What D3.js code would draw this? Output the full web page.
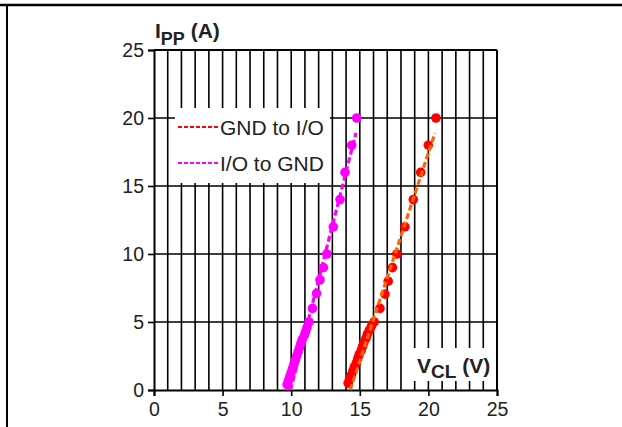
<!DOCTYPE html>
<html>
<head>
<meta charset="utf-8">
<script src="https://cdn.jsdelivr.net/npm/d3@7"></script>
<style>
html,body{margin:0;padding:0;background:#fff;}
svg{display:block;}
text{font-family:Arial,"Liberation Sans",sans-serif;}
</style>
</head>
<body>
<svg id="chart" width="622" height="427"></svg>
<script>
// ---- data ----
const xTicks = [0, 5, 10, 15, 20, 25];
const yTicks = [0, 5, 10, 15, 20, 25];
const seriesNames = ["GND to I/O", "I/O to GND"];

// GND to I/O (red dots)
const gndToIO_V = [14.15, 14.25, 14.38, 14.5, 14.6, 14.75, 14.85, 14.95, 15.1, 15.2, 15.3, 15.45, 15.55, 15.7, 15.85, 16.05, 16.47, 16.84, 17.07, 17.38, 17.7, 18.29, 18.9, 19.44, 19.99, 20.55];
const gndToIO_I = [0.5, 0.8, 1.1, 1.4, 1.7, 2.0, 2.3, 2.6, 2.9, 3.2, 3.5, 3.8, 4.1, 4.4, 4.7, 5.0, 6.0, 7.05, 8.0, 9.0, 10.0, 12.0, 14.0, 16.0, 18.0, 20.0];
// I/O to GND (magenta dots)
const ioToGnd_V = [9.7, 9.8, 9.9, 10.0, 10.1, 10.2, 10.3, 10.4, 10.5, 10.6, 10.7, 10.8, 10.95, 11.05, 11.15, 11.3, 11.55, 11.85, 12.1, 12.35, 12.6, 13.07, 13.56, 13.92, 14.41, 14.77];
const ioToGnd_I = [0.4, 0.7, 1.0, 1.3, 1.6, 1.9, 2.2, 2.5, 2.8, 3.1, 3.4, 3.7, 4.0, 4.3, 4.6, 5.0, 6.0, 7.1, 8.1, 9.0, 10.0, 12.0, 14.0, 16.0, 18.0, 20.0];

// fitted trend lines (endpoints)
const gndFit_V = [14.3, 20.48];
const gndFit_I = [0, 18.9];
const ioFit_V = [9.95, 14.72];
const ioFit_I = [0, 18.9];

// ---- layout ----
const svg = d3.select("#chart");
const L = 154, R = 497, T = 50, B = 390;
const x = d3.scaleLinear().domain([0, 25]).range([L, R]);
const y = d3.scaleLinear().domain([0, 25]).range([B, T]);

// outer frame
svg.append("line").attr("x1", 0).attr("x2", 622).attr("y1", 5).attr("y2", 5)
  .attr("stroke", "#000").attr("stroke-width", 2.5);
svg.append("line").attr("x1", 7).attr("x2", 7).attr("y1", 5).attr("y2", 427)
  .attr("stroke", "#000").attr("stroke-width", 2);

// grid
const g = svg.append("g");
g.selectAll("line.v").data(d3.range(1, 25)).enter().append("line")
  .attr("x1", d => x(d)).attr("x2", d => x(d)).attr("y1", y(0)).attr("y2", y(25))
  .attr("stroke", "#000").attr("stroke-width", 1.6);
g.selectAll("line.h").data(yTicks.slice(1)).enter().append("line")
  .attr("x1", x(0)).attr("x2", x(25)).attr("y1", d => y(d)).attr("y2", d => y(d))
  .attr("stroke", "#000").attr("stroke-width", 1.6);

// legend box (white) and VCL box
svg.append("rect").attr("x", 175).attr("y", 108).attr("width", 155).attr("height", 75).attr("fill", "#fff");
svg.append("rect").attr("x", 413).attr("y", 348).attr("width", 83).attr("height", 33).attr("fill", "#fff");

// axes
const ax = svg.append("g").attr("transform", `translate(0,${B})`)
  .call(d3.axisBottom(x).tickValues(xTicks).tickSize(6).tickPadding(6));
const ay = svg.append("g").attr("transform", `translate(${L},0)`)
  .call(d3.axisLeft(y).tickValues(yTicks).tickSize(6).tickPadding(4));
[ax, ay].forEach(a => {
  a.select(".domain").attr("stroke", "#000").attr("stroke-width", 2);
  a.selectAll(".tick line").attr("stroke", "#000").attr("stroke-width", 1.6);
  a.selectAll(".tick text").attr("font-size", 19.5).attr("fill", "#222")
    .attr("font-family", "Arial, 'Liberation Sans', sans-serif");
});
// right and top borders
svg.append("line").attr("x1", R).attr("x2", R).attr("y1", T).attr("y2", B).attr("stroke", "#000").attr("stroke-width", 2);
svg.append("line").attr("x1", L).attr("x2", R).attr("y1", T).attr("y2", T).attr("stroke", "#000").attr("stroke-width", 2);

// data
function pts(V, I) { return V.map((v, i) => ({v: v, i: I[i]})); }
const line = d3.line().x(d => x(d.v)).y(d => y(d.i));

// magenta series
svg.append("g").selectAll("circle").data(pts(ioToGnd_V, ioToGnd_I)).enter().append("circle")
  .attr("cx", d => x(d.v)).attr("cy", d => y(d.i)).attr("r", 4.8).attr("fill", "#FF00FF");
svg.append("path").datum(pts(ioFit_V, ioFit_I)).attr("d", line)
  .attr("fill", "none").attr("stroke", "#FF00FF").attr("stroke-width", 3.2).attr("stroke-dasharray", "6,3");

// red series
svg.append("g").selectAll("circle").data(pts(gndToIO_V, gndToIO_I)).enter().append("circle")
  .attr("cx", d => x(d.v)).attr("cy", d => y(d.i)).attr("r", 4.8).attr("fill", "#FF0000");
svg.append("path").datum(pts(gndFit_V, gndFit_I)).attr("d", line)
  .attr("fill", "none").attr("stroke", "#FF6600").attr("stroke-width", 3.2).attr("stroke-dasharray", "6,3");

// legend
const legColors = ["#FF0000", "#FF00FF"];
const legY = [127, 163];
seriesNames.forEach((name, k) => {
  svg.append("line").attr("x1", 178).attr("x2", 218).attr("y1", legY[k]).attr("y2", legY[k])
    .attr("stroke", legColors[k]).attr("stroke-width", 2).attr("stroke-dasharray", "4,2");
  svg.append("text").attr("x", 220).attr("y", legY[k] + 7.5).attr("font-size", 21).attr("fill", "#222").text(name);
});

// axis titles
const ty = svg.append("text").attr("x", 155).attr("y", 38).attr("font-weight", "bold").attr("font-size", 21).attr("fill", "#222");
ty.append("tspan").text("I");
ty.append("tspan").attr("font-size", 18).attr("dy", 7).text("PP");
ty.append("tspan").attr("dy", -7).text(" (A)");

const tx = svg.append("text").attr("x", 417).attr("y", 373).attr("font-weight", "bold").attr("font-size", 21).attr("fill", "#222");
tx.append("tspan").text("V");
tx.append("tspan").attr("font-size", 19).attr("dy", 5).text("CL");
tx.append("tspan").attr("dy", -5).text(" (V)");
</script>
</body>
</html>
